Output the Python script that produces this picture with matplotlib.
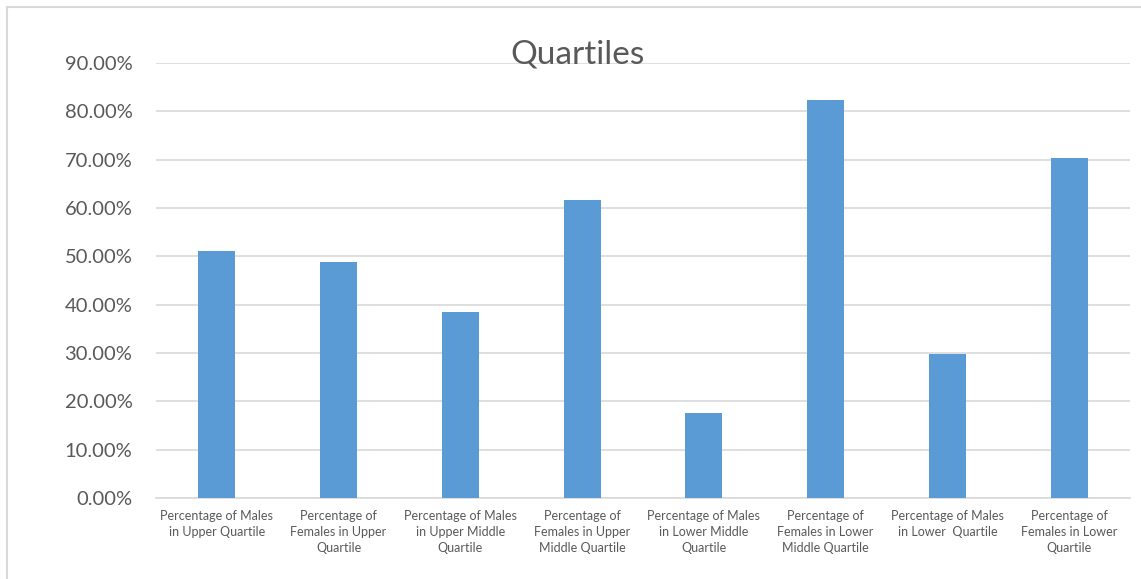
import matplotlib
matplotlib.use("Agg")
import matplotlib.pyplot as plt
from matplotlib.patches import Rectangle
from matplotlib.ticker import PercentFormatter

plt.rcParams["font.family"] = ["Lato", "DejaVu Sans"]

# ── Data ───────────────────────────────────────────────────────────
categories = [
    "Percentage of Males\nin Upper Quartile",
    "Percentage of\nFemales in Upper\nQuartile",
    "Percentage of Males\nin Upper Middle\nQuartile",
    "Percentage of\nFemales in Upper\nMiddle Quartile",
    "Percentage of Males\nin Lower Middle\nQuartile",
    "Percentage of\nFemales in Lower\nMiddle Quartile",
    "Percentage of Males\nin Lower  Quartile",
    "Percentage of\nFemales in Lower\nQuartile",
]
values = [0.511, 0.489, 0.384, 0.616, 0.176, 0.824, 0.297, 0.703]
y_ticks = [0.0, 0.1, 0.2, 0.3, 0.4, 0.5, 0.6, 0.7, 0.8, 0.9]

BAR = "#5b9bd5"
GRID = "#d9d9d9"
TEXT = "#595959"

fig = plt.figure(figsize=(11.41, 5.79), dpi=100)
ax = fig.add_axes([156 / 1141, 1 - 498 / 579, (1130 - 156) / 1141, (498 - 63) / 579])

# chart border (Excel-style frame, cut at right/bottom)
fig.patches.append(Rectangle((7 / 1141, -0.1), 1.2, 1 - 7 / 579 + 0.1,
                             transform=fig.transFigure, fill=False,
                             edgecolor=GRID, linewidth=1.5))

x = range(len(values))
ax.bar(x, values, width=0.305, color=BAR, zorder=3)

ax.set_xlim(-0.5, len(values) - 0.5)
ax.set_ylim(0, 0.9)
ax.set_yticks(y_ticks)
ax.yaxis.set_major_formatter(PercentFormatter(1.0, decimals=2))
ax.set_xticks(list(x))
ax.set_xticklabels(categories, fontsize=9, color=TEXT, linespacing=1.4)
ax.tick_params(axis="y", length=0, pad=17, labelsize=14.5, labelcolor=TEXT)
ax.tick_params(axis="x", length=0, pad=8.5)

ax.grid(axis="y", color=GRID, linewidth=1.2, zorder=0)
for s in ["top", "right", "left"]:
    ax.spines[s].set_visible(False)
ax.spines["bottom"].set_color(GRID)
ax.spines["bottom"].set_linewidth(1.2)

fig.text(578 / 1141, 1 - 63 / 579, "Quartiles", ha="center", va="baseline",
         fontsize=24, color=TEXT)

fig.savefig("out.png", dpi=100, facecolor="white")
